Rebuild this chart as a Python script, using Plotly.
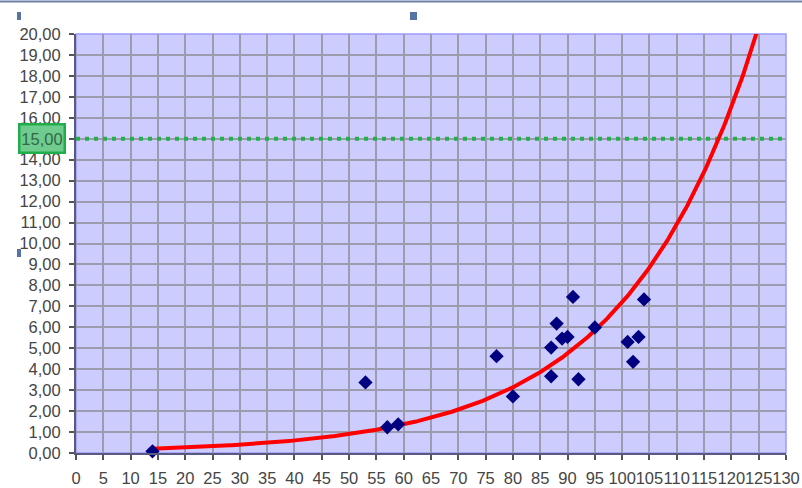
import numpy as np
import plotly.graph_objects as go

# Measured samples
x_vals = [14, 53, 57, 59, 77, 80, 87, 87, 88, 89, 90, 91, 92, 95, 101, 102, 103, 104]
y_vals = [0.08, 3.37, 1.23, 1.37, 4.62, 2.70, 5.03, 3.66, 6.18, 5.46, 5.54, 7.45,
          3.52, 5.99, 5.30, 4.35, 5.54, 7.33]

# Threshold level and axis extents
threshold = 15
threshold_label = "15,00"
x_max = 130
y_max = 20

# Y tick labels (the threshold one is drawn inside the highlight box instead)
y_tick_vals = list(range(0, y_max + 1))
y_tick_text = ["" if v == threshold else f"{v},00" for v in y_tick_vals]

# Exponential trendline: least-squares fit of ln(y) against x, projected forward
slope, intercept = np.polyfit(np.array(x_vals), np.log(np.array(y_vals)), 1)
trend_x = np.linspace(min(x_vals), x_max, 400)
trend_y = np.exp(intercept) * np.exp(slope * trend_x)

W, H = 802, 488
ML, MR, MT, MB = 76, 16, 34, 35
PW, PH = W - ML - MR, H - MT - MB


def px_to_paper(px, py):
    return (px - ML) / PW, (H - MB - py) / PH


fig = go.Figure()

fig.add_trace(go.Scatter(
    x=[0, x_max], y=[threshold, threshold], mode="lines",
    line=dict(color="#22b04a", width=4, dash="4px,5px"),
    hoverinfo="skip",
))

fig.add_trace(go.Scatter(
    x=trend_x, y=trend_y, mode="lines",
    line=dict(color="#ff0000", width=4),
))

fig.add_trace(go.Scatter(
    x=x_vals, y=y_vals, mode="markers",
    marker=dict(symbol="diamond", size=11, color="#000080",
                line=dict(width=0)),
    cliponaxis=False,
))

shapes = []
# light plot-area frame
shapes.append(dict(type="rect", xref="paper", yref="paper", x0=0, x1=1, y0=0, y1=1,
                   line=dict(color="#9a9aff", width=1.5), layer="below"))
# top rule across the page
x0p, y0p = px_to_paper(0, 1.5)
x1p, _ = px_to_paper(W, 1.5)
shapes.append(dict(type="line", xref="paper", yref="paper", x0=x0p, x1=x1p, y0=y0p, y1=y0p,
                   line=dict(color="#6f7fa8", width=2)))
# small handles
for (hx0, hy0, hx1, hy1) in [(17, 12, 21, 20), (410, 12, 417, 20), (17, 249, 21, 257)]:
    a, b = px_to_paper(hx0, hy1)
    c, d = px_to_paper(hx1, hy0)
    shapes.append(dict(type="rect", xref="paper", yref="paper", x0=a, x1=c, y0=b, y1=d,
                       line=dict(width=0), fillcolor="#5573a3"))

ax_font = dict(family="Liberation Sans, Arial, sans-serif", size=16.5, color="#454545")

box_x, _ = px_to_paper(41.5, 0)

fig.update_layout(
    width=W, height=H,
    margin=dict(l=ML, r=MR, t=MT, b=MB),
    paper_bgcolor="white",
    plot_bgcolor="#ccccff",
    showlegend=False,
    separators=",.",
    shapes=shapes,
    annotations=[dict(
        xref="paper", yref="y", x=box_x, y=threshold,
        text=threshold_label, showarrow=False,
        xanchor="center", yanchor="middle",
        font=dict(family="Liberation Sans, Arial, sans-serif", size=16.5, color="#2f6a45"),
        bgcolor="#6fcb8e", bordercolor="#1fae4a", borderwidth=2.5,
        width=41, height=24, borderpad=1,
    )],
    xaxis=dict(
        range=[0, x_max], dtick=5, tick0=0, tickangle=0, automargin=False,
        ticklabelstandoff=4,
        showgrid=True, gridcolor="#9c9cae", gridwidth=1.5,
        showline=True, linecolor="#5a5a80", linewidth=2,
        ticks="outside", ticklen=5, tickcolor="#555555", tickwidth=1.5,
        tickfont=ax_font, zeroline=False, fixedrange=True,
    ),
    yaxis=dict(
        range=[0, y_max], tickmode="array", tickvals=y_tick_vals, ticktext=y_tick_text,
        automargin=False, ticklabelstandoff=5,
        showgrid=True, gridcolor="#9c9cae", gridwidth=1.5,
        showline=True, linecolor="#5a5a80", linewidth=2,
        ticks="outside", ticklen=5, tickcolor="#555555", tickwidth=1.5,
        tickfont=ax_font, zeroline=False, fixedrange=True,
    ),
)

fig.write_html("out.html")
